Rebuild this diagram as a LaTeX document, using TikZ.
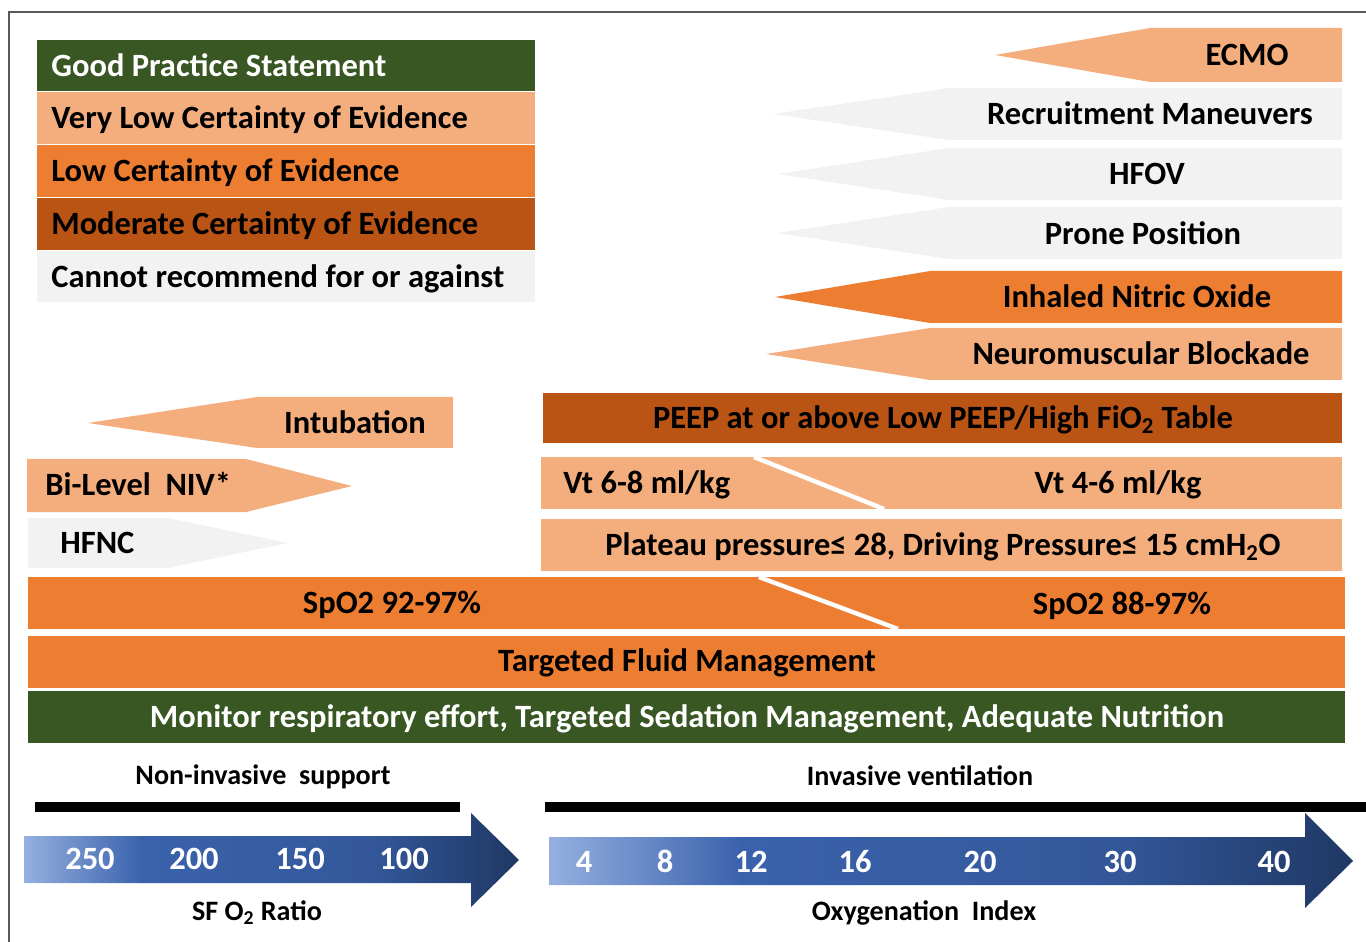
\documentclass[tikz,border=0pt]{standalone}
\usepackage{fontspec}
\setmainfont{Carlito}
\definecolor{gpsgreen}{HTML}{385723}
\definecolor{vlow}{HTML}{F4AD7D}
\definecolor{low}{HTML}{ED7D31}
\definecolor{moderate}{HTML}{BA5414}
\definecolor{norec}{HTML}{F2F2F2}
\definecolor{frame}{HTML}{595959}
\definecolor{lightblue}{HTML}{95B0E0}
\definecolor{midblue}{HTML}{3A62AC}
\definecolor{darkblue}{HTML}{1F3864}
\pgfdeclarehorizontalshading{oxyshade}{100bp}{color(0bp)=(lightblue); color(25bp)=(lightblue); color(37bp)=(midblue); color(60bp)=(midblue!75!darkblue); color(75bp)=(darkblue); color(100bp)=(darkblue)}

\begin{document}
\begin{tikzpicture}[x=0.02cm, y=-0.02cm,
    lbl/.style={font=\bfseries\fontsize{18.5}{20}\selectfont, inner sep=0pt, text height=11.9pt, text depth=0pt},
    axlbl/.style={font=\bfseries\fontsize{16}{18}\selectfont, inner sep=0pt, text height=10.3pt, text depth=0pt},
    num/.style={lbl, text=white, font=\bfseries\fontsize{18.5}{20}\selectfont, text height=11.9pt},
    bluearrow/.style={shading=oxyshade}]
    \useasboundingbox (0,0) rectangle (1366,942);
    \draw[frame, line width=1pt] (9,942) -- (9,12) -- (1366,12);

    \fill[gpsgreen] (37,40) rectangle (535,91);
    \fill[vlow] (37,92) rectangle (535,144);
    \fill[low] (37,145) rectangle (535,197);
    \fill[moderate] (37,198) rectangle (535,250);
    \fill[norec] (37,251) rectangle (535,302);
    \node[lbl, anchor=west, text=white] (gps) at (51,66) {Good Practice Statement};
    \node[lbl, anchor=west] (verylow) at (51,118) {Very Low Certainty of Evidence};
    \node[lbl, anchor=west] (lowcert) at (51,171) {Low Certainty of Evidence};
    \node[lbl, anchor=west] (modcert) at (51,224) {Moderate Certainty of Evidence};
    \node[lbl, anchor=west] (cannot) at (51,277) {Cannot recommend for or against};

    \fill[vlow] (995,55) -- (1150,28) -- (1342,28) -- (1342,82) -- (1150,82) -- cycle;
    \fill[norec] (773,114) -- (949,88) -- (1342,88) -- (1342,140) -- (949,140) -- cycle;
    \fill[norec] (777,174) -- (949,148) -- (1342,148) -- (1342,200) -- (949,200) -- cycle;
    \fill[norec] (777,233) -- (949,207) -- (1342,207) -- (1342,259) -- (949,259) -- cycle;
    \fill[low] (775,297) -- (930,271) -- (1342,271) -- (1342,323) -- (930,323) -- cycle;
    \fill[vlow] (766,354) -- (930,328) -- (1342,328) -- (1342,380) -- (930,380) -- cycle;
    \node[lbl] (ecmo) at (1247,55) {ECMO};
    \node[lbl] (recruit) at (1150,114) {Recruitment Maneuvers};
    \node[lbl] (hfov) at (1147,174) {HFOV};
    \node[lbl] (prone) at (1143,234) {Prone Position};
    \node[lbl] (ino) at (1137,297) {Inhaled Nitric Oxide};
    \node[lbl] (nmb) at (1141,354) {Neuromuscular Blockade};

    \fill[vlow] (88,423) -- (257,397) -- (453,397) -- (453,448) -- (257,448) -- cycle;
    \fill[vlow] (27,459) -- (246,459) -- (352,486) -- (246,512) -- (27,512) -- cycle;
    \fill[norec] (28,518) -- (168,518) -- (288,543) -- (168,568) -- (28,568) -- cycle;
    \node[lbl] (intub) at (355,423) {Intubation};
    \node[lbl, anchor=west] (bilevel) at (45,485) {Bi-Level\ \ NIV*};
    \node[lbl, anchor=west] (hfnc) at (60,543) {HFNC};

    \fill[moderate] (543,393) rectangle (1342,443);
    \fill[vlow] (541,457) rectangle (1342,509);
    \draw[white, line width=2.5pt] (754,457) -- (884,509);
    \fill[vlow] (541,519) rectangle (1342,571);
    \fill[low] (28,577) rectangle (1345,629);
    \draw[white, line width=2.5pt] (759,577) -- (898,629);
    \fill[low] (28,636) rectangle (1345,688);
    \fill[gpsgreen] (28,691) rectangle (1345,743);
    \node[lbl] (peep) at (943,418) {PEEP at or above Low PEEP/High FiO\textsubscript{2} Table};
    \node[lbl, anchor=west] (vthigh) at (563,483) {Vt 6-8 ml/kg};
    \node[lbl] (vtlow) at (1118,483) {Vt 4-6 ml/kg};
    \node[lbl] (plateau) at (943,545) {Plateau pressure≤ 28, Driving Pressure≤ 15 cmH\textsubscript{2}O};
    \node[lbl] (spohigh) at (392,603) {SpO2 92-97\%};
    \node[lbl] (spolow) at (1122,604) {SpO2 88-97\%};
    \node[lbl] (fluid) at (687,661) {Targeted Fluid Management};
    \node[lbl, text=white] (monitor) at (687,717) {Monitor respiratory effort, Targeted Sedation Management, Adequate Nutrition};

    \node[axlbl] (noninv) at (263,775) {Non-invasive\ \ support};
    \node[axlbl] (inv) at (920,776) {Invasive ventilation};
    \fill[black] (35,802) rectangle (460,812);
    \fill[black] (545,802) rectangle (1366,812);
    \shade[bluearrow] (24,836) -- (471,836) -- (471,813) -- (519,860) -- (471,907) -- (471,883) -- (24,883) -- cycle;
    \shade[bluearrow] (549,837) -- (1305,837) -- (1305,813) -- (1353,861) -- (1305,908) -- (1305,885) -- (549,885) -- cycle;
    \foreach \v/\x in {250/90, 200/194, 150/300, 100/404}
        \node[num] (sf\v) at (\x,859) {\v};
    \foreach \v/\x in {4/584, 8/665, 12/751, 16/855, 20/980, 30/1120, 40/1274}
        \node[num] (oi\v) at (\x,862) {\v};
    \node[axlbl] (sfratio) at (257,911) {SF O\textsubscript{2} Ratio};
    \node[axlbl] (oindex) at (924,911) {Oxygenation\ \ Index};
\end{tikzpicture}
\end{document}
